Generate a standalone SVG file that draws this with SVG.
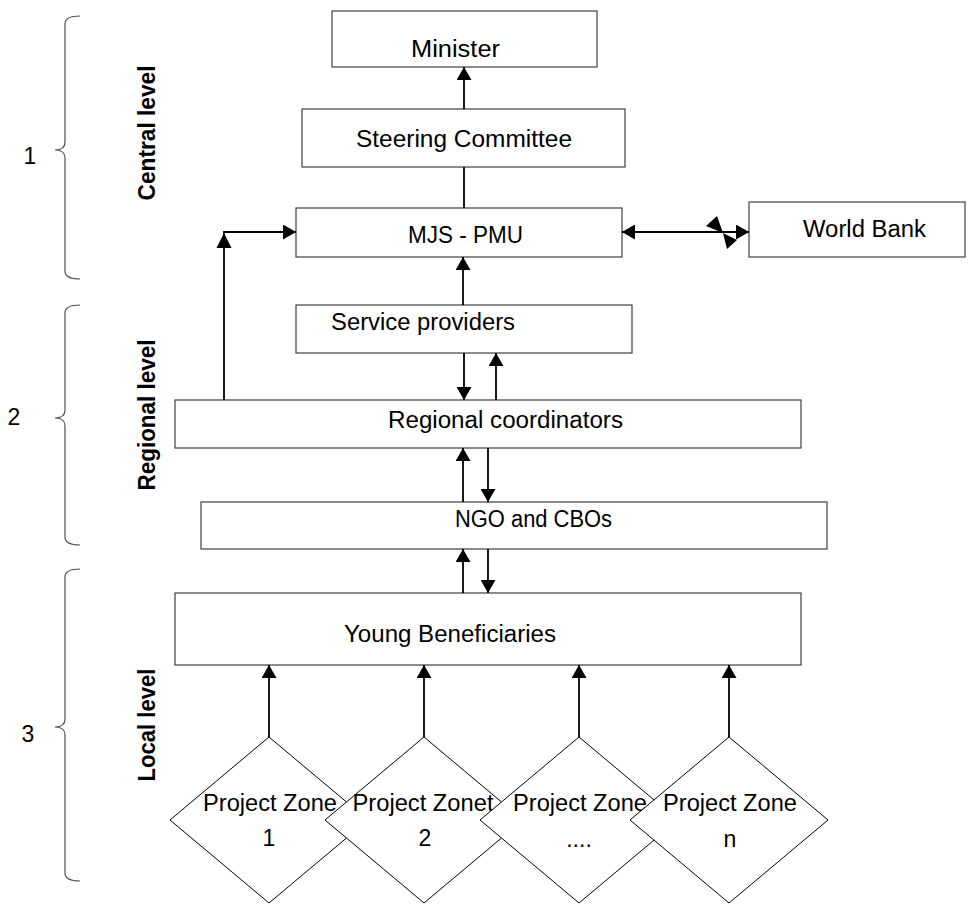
<svg xmlns="http://www.w3.org/2000/svg" width="968" height="905" viewBox="0 0 968 905">
<defs>
<marker id="ah" viewBox="0 0 13 15" refX="13" refY="7.5" markerWidth="13" markerHeight="15" markerUnits="userSpaceOnUse" orient="auto-start-reverse">
<path d="M0,0 L13,7.5 L0,15 z" fill="#000"/>
</marker>
</defs>
<style>
.box{fill:#fff;stroke:#404040;stroke-width:1.2}
.dia{fill:#fff;stroke:#000;stroke-width:1}
.t{font-family:"Liberation Sans",Arial,sans-serif;font-size:23px;fill:#000}
.lv{font-family:"Liberation Sans",Arial,sans-serif;font-size:23px;font-weight:bold;fill:#000}
.c{fill:none;stroke:#000;stroke-width:1.8}
.br{fill:none;stroke:#505050;stroke-width:1.2}
</style>
<rect width="968" height="905" fill="#fff"/>

<g id="levels">
<path class="br" d="M80,16 Q65,16 65,24 L65,142 Q65,150 55,150 Q65,150 65,158 L65,271 Q65,279 80,279"/>
<path class="br" d="M80,305 Q65,305 65,313 L65,410 Q65,418 55,418 Q65,418 65,426 L65,537 Q65,545 80,545"/>
<path class="br" d="M80,569 Q65,569 65,577 L65,719 Q65,727 55,727 Q65,727 65,735 L65,873 Q65,881 80,881"/>
<text class="t" x="30" y="164" text-anchor="middle" font-size="22">1</text>
<text class="t" x="14" y="425" text-anchor="middle" font-size="22">2</text>
<text class="t" x="28" y="742" text-anchor="middle" font-size="22">3</text>
<text class="lv" transform="translate(155,133) rotate(-90)" text-anchor="middle" textLength="135" lengthAdjust="spacingAndGlyphs">Central level</text>
<text class="lv" transform="translate(155,415) rotate(-90)" text-anchor="middle" textLength="151" lengthAdjust="spacingAndGlyphs">Regional level</text>
<text class="lv" transform="translate(155,725) rotate(-90)" text-anchor="middle" textLength="113" lengthAdjust="spacingAndGlyphs">Local level</text>
</g>

<g id="minister">
<rect class="box" x="332" y="11" width="265" height="56"/>
<text class="t" x="455.5" y="57" text-anchor="middle" textLength="89" lengthAdjust="spacingAndGlyphs">Minister</text>
</g>
<g id="steering">
<rect class="box" x="302" y="109" width="323" height="58"/>
<text class="t" x="464" y="147" text-anchor="middle" textLength="216" lengthAdjust="spacingAndGlyphs">Steering Committee</text>
</g>
<g id="mjs-pmu">
<rect class="box" x="296" y="208" width="326" height="49"/>
<text class="t" x="465.5" y="243" text-anchor="middle" textLength="115" lengthAdjust="spacingAndGlyphs">MJS - PMU</text>
</g>
<g id="world-bank">
<rect class="box" x="749" y="202" width="216" height="55"/>
<text class="t" x="864.5" y="237" text-anchor="middle" textLength="123" lengthAdjust="spacingAndGlyphs">World Bank</text>
</g>
<g id="service-providers">
<rect class="box" x="296" y="305" width="336" height="48"/>
<text class="t" x="331" y="330" textLength="184" lengthAdjust="spacingAndGlyphs">Service providers</text>
</g>
<g id="regional-coordinators">
<rect class="box" x="175" y="400" width="626" height="48"/>
<text class="t" x="505.5" y="428" text-anchor="middle" textLength="235" lengthAdjust="spacingAndGlyphs">Regional coordinators</text>
</g>
<g id="ngo-cbos">
<rect class="box" x="201" y="502" width="626" height="47"/>
<text class="t" x="455" y="527" textLength="157" lengthAdjust="spacingAndGlyphs">NGO and CBOs</text>
</g>
<g id="young-beneficiaries">
<rect class="box" x="175" y="593" width="626" height="72"/>
<text class="t" x="450" y="642" text-anchor="middle" textLength="212" lengthAdjust="spacingAndGlyphs">Young Beneficiaries</text>
</g>

<g id="zone-1">
<polygon class="dia" points="269,737 368,820 269,903 170,820"/>
<text class="t" x="270" y="811" text-anchor="middle" textLength="134" lengthAdjust="spacingAndGlyphs">Project Zone</text>
<text class="t" x="269" y="846" text-anchor="middle">1</text>
</g>
<g id="zone-2">
<polygon class="dia" points="424,737 523,820 424,903 325,820"/>
<text class="t" x="423" y="811" text-anchor="middle" textLength="141" lengthAdjust="spacingAndGlyphs">Project Zonet</text>
<text class="t" x="425" y="846" text-anchor="middle">2</text>
</g>
<g id="zone-3">
<polygon class="dia" points="579,737 678,820 579,903 480,820"/>
<text class="t" x="580" y="811" text-anchor="middle" textLength="134" lengthAdjust="spacingAndGlyphs">Project Zone</text>
<text class="t" x="579" y="847" text-anchor="middle">....</text>
</g>
<g id="zone-n">
<polygon class="dia" points="729,737 828,820 729,903 630,820"/>
<text class="t" x="730" y="811" text-anchor="middle" textLength="134" lengthAdjust="spacingAndGlyphs">Project Zone</text>
<text class="t" x="730" y="847" text-anchor="middle">n</text>
</g>

<g id="connectors">
<line class="c" x1="464" y1="109" x2="464" y2="67" marker-end="url(#ah)"/>
<line class="c" x1="464" y1="167" x2="464" y2="208"/>
<line class="c" x1="463" y1="305" x2="463" y2="257" marker-end="url(#ah)"/>
<line class="c" x1="622" y1="232" x2="749" y2="232" marker-start="url(#ah)" marker-end="url(#ah)"/>
<polygon points="706,226 717,216 723,233" fill="#000"/>
<polygon points="723,233 737,240 727,249" fill="#000"/>
<path class="c" d="M224,400 L224,232 L296,232" marker-end="url(#ah)"/>
<polygon points="224,233 216.5,248 231.5,248" fill="#000"/>
<line class="c" x1="464" y1="353" x2="464" y2="400" marker-end="url(#ah)"/>
<line class="c" x1="496" y1="400" x2="496" y2="353" marker-end="url(#ah)"/>
<line class="c" x1="463" y1="502" x2="463" y2="448" marker-end="url(#ah)"/>
<line class="c" x1="488" y1="448" x2="488" y2="502" marker-end="url(#ah)"/>
<line class="c" x1="463" y1="593" x2="463" y2="549" marker-end="url(#ah)"/>
<line class="c" x1="488" y1="549" x2="488" y2="593" marker-end="url(#ah)"/>
<line class="c" x1="269" y1="737" x2="269" y2="665" marker-end="url(#ah)"/>
<line class="c" x1="424" y1="737" x2="424" y2="665" marker-end="url(#ah)"/>
<line class="c" x1="579" y1="737" x2="579" y2="665" marker-end="url(#ah)"/>
<line class="c" x1="729" y1="737" x2="729" y2="665" marker-end="url(#ah)"/>
</g>
</svg>
